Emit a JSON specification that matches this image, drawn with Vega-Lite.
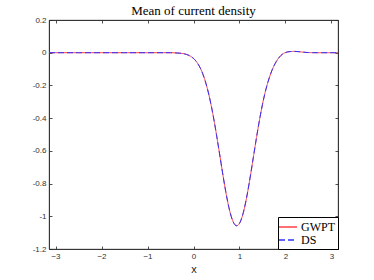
{
  "$schema": "https://vega.github.io/schema/vega-lite/v6.json",
  "autosize": {"type": "none"},
  "padding": {"left": 49, "top": 20, "right": 36, "bottom": 31},
  "width": 289,
  "height": 229,
  "title": {"text": "Mean of current density", "font": "Liberation Serif", "fontSize": 13, "fontWeight": "normal", "color": "#000000", "offset": -2, "anchor": "middle"},
  "config": {
    "view": {"stroke": "#262626", "strokeWidth": 0.8},
    "axis": {"grid": false, "labelFont": "Liberation Sans", "labelFontSize": 8, "labelColor": "#333333", "domainColor": "#262626", "domainWidth": 0.8, "tickColor": "#262626", "tickWidth": 0.8, "tickSize": -3, "titleFont": "Liberation Sans", "titleFontWeight": "normal", "titleColor": "#262626", "titleFontSize": 11}
  },
  "data": {"values": [
    {"x": -3.1416, "GWPT": 0, "DS": 0},
    {"x": -2.5, "GWPT": 0, "DS": 0},
    {"x": -2, "GWPT": 0, "DS": 0},
    {"x": -1.5, "GWPT": 0, "DS": 0},
    {"x": -1, "GWPT": 0, "DS": 0},
    {"x": -0.5, "GWPT": 0, "DS": 0},
    {"x": -0.4, "GWPT": -0.001, "DS": -0.001},
    {"x": -0.3, "GWPT": -0.0028, "DS": -0.0028},
    {"x": -0.2, "GWPT": -0.007, "DS": -0.007},
    {"x": -0.1, "GWPT": -0.0163, "DS": -0.0163},
    {"x": 0, "GWPT": -0.035, "DS": -0.035},
    {"x": 0.05, "GWPT": -0.0498, "DS": -0.0498},
    {"x": 0.1, "GWPT": -0.0695, "DS": -0.0695},
    {"x": 0.15, "GWPT": -0.0952, "DS": -0.0952},
    {"x": 0.2, "GWPT": -0.1279, "DS": -0.1279},
    {"x": 0.25, "GWPT": -0.1685, "DS": -0.1685},
    {"x": 0.3, "GWPT": -0.2178, "DS": -0.2178},
    {"x": 0.35, "GWPT": -0.2762, "DS": -0.2762},
    {"x": 0.4, "GWPT": -0.3436, "DS": -0.3436},
    {"x": 0.45, "GWPT": -0.419, "DS": -0.419},
    {"x": 0.5, "GWPT": -0.5013, "DS": -0.5013},
    {"x": 0.55, "GWPT": -0.5884, "DS": -0.5884},
    {"x": 0.6, "GWPT": -0.6773, "DS": -0.6773},
    {"x": 0.65, "GWPT": -0.7649, "DS": -0.7649},
    {"x": 0.7, "GWPT": -0.8471, "DS": -0.8471},
    {"x": 0.75, "GWPT": -0.9205, "DS": -0.9205},
    {"x": 0.8, "GWPT": -0.981, "DS": -0.981},
    {"x": 0.85, "GWPT": -1.0254, "DS": -1.0254},
    {"x": 0.9, "GWPT": -1.0515, "DS": -1.0515},
    {"x": 0.94, "GWPT": -1.058, "DS": -1.058},
    {"x": 1.0, "GWPT": -1.0434, "DS": -1.0434},
    {"x": 1.05, "GWPT": -1.0098, "DS": -1.0098},
    {"x": 1.1, "GWPT": -0.9585, "DS": -0.9585},
    {"x": 1.15, "GWPT": -0.8925, "DS": -0.8925},
    {"x": 1.2, "GWPT": -0.8151, "DS": -0.8151},
    {"x": 1.25, "GWPT": -0.7302, "DS": -0.7302},
    {"x": 1.3, "GWPT": -0.6417, "DS": -0.6417},
    {"x": 1.35, "GWPT": -0.5531, "DS": -0.5531},
    {"x": 1.4, "GWPT": -0.4676, "DS": -0.4676},
    {"x": 1.45, "GWPT": -0.3879, "DS": -0.3879},
    {"x": 1.5, "GWPT": -0.3155, "DS": -0.3155},
    {"x": 1.55, "GWPT": -0.2518, "DS": -0.2518},
    {"x": 1.6, "GWPT": -0.197, "DS": -0.197},
    {"x": 1.65, "GWPT": -0.1513, "DS": -0.1513},
    {"x": 1.7, "GWPT": -0.112, "DS": -0.112},
    {"x": 1.75, "GWPT": -0.08, "DS": -0.08},
    {"x": 1.8, "GWPT": -0.054, "DS": -0.054},
    {"x": 1.85, "GWPT": -0.033, "DS": -0.033},
    {"x": 1.9, "GWPT": -0.017, "DS": -0.017},
    {"x": 1.95, "GWPT": -0.006, "DS": -0.006},
    {"x": 2.0, "GWPT": 0.001, "DS": 0.001},
    {"x": 2.05, "GWPT": 0.005, "DS": 0.005},
    {"x": 2.1, "GWPT": 0.007, "DS": 0.007},
    {"x": 2.2, "GWPT": 0.008, "DS": 0.008},
    {"x": 2.3, "GWPT": 0.006, "DS": 0.006},
    {"x": 2.4, "GWPT": 0.003, "DS": 0.003},
    {"x": 2.5, "GWPT": 0.001, "DS": 0.001},
    {"x": 2.7, "GWPT": 0, "DS": 0},
    {"x": 3.1416, "GWPT": 0, "DS": 0}
  ]},
  "transform": [{"fold": ["GWPT", "DS"], "as": ["series", "value"]}],
  "layer": [
    {
      "mark": {"type": "line", "strokeWidth": 1, "interpolate": "monotone", "clip": true},
      "encoding": {
        "x": {"field": "x", "type": "quantitative", "scale": {"domain": [-3.14159, 3.14159], "nice": false, "zero": false}, "axis": {"orient": "bottom", "values": [-3, -2, -1, 0, 1, 2, 3], "title": "x", "labelPadding": 6, "titleY": 14, "titleBaseline": "top"}},
        "y": {"field": "value", "type": "quantitative", "scale": {"domain": [-1.2, 0.2], "nice": false, "zero": false}, "axis": {"orient": "left", "values": [-1.2, -1, -0.8, -0.6, -0.4, -0.2, 0, 0.2], "title": null, "labelPadding": 6, "labelExpr": "replace(format(datum.value, '.1~f'), '−', '-')"}},
        "color": {"field": "series", "type": "nominal", "scale": {"domain": ["GWPT", "DS"], "range": ["#ff4040", "#3030ff"]}, "legend": {"orient": "bottom-right", "offset": 0, "title": null, "strokeColor": "#000000", "fillColor": "#ffffff", "padding": 3, "symbolType": "M-1.5,0L1.5,0", "symbolSize": 144, "symbolStrokeWidth": 1.5, "labelFont": "Liberation Serif", "labelFontSize": 12, "labelColor": "#000000", "rowPadding": 0, "labelOffset": 6}},
        "strokeDash": {"field": "series", "type": "nominal", "scale": {"domain": ["GWPT", "DS"], "range": [[1, 0], [6, 3]]}, "legend": null},
        "order": {"field": "series", "sort": "descending"}
      }
    },
    {
      "mark": {"type": "point", "opacity": 0},
      "encoding": {
        "x": {"field": "x", "type": "quantitative", "scale": {"domain": [-3.14159, 3.14159], "nice": false, "zero": false}, "axis": {"orient": "top", "values": [-3, -2, -1, 0, 1, 2, 3], "labels": false, "title": null}},
        "y": {"field": "value", "type": "quantitative", "scale": {"domain": [-1.2, 0.2], "nice": false, "zero": false}, "axis": {"orient": "right", "values": [-1.2, -1, -0.8, -0.6, -0.4, -0.2, 0, 0.2], "labels": false, "title": null}}
      }
    }
  ],
  "resolve": {"axis": {"x": "independent", "y": "independent"}}
}
